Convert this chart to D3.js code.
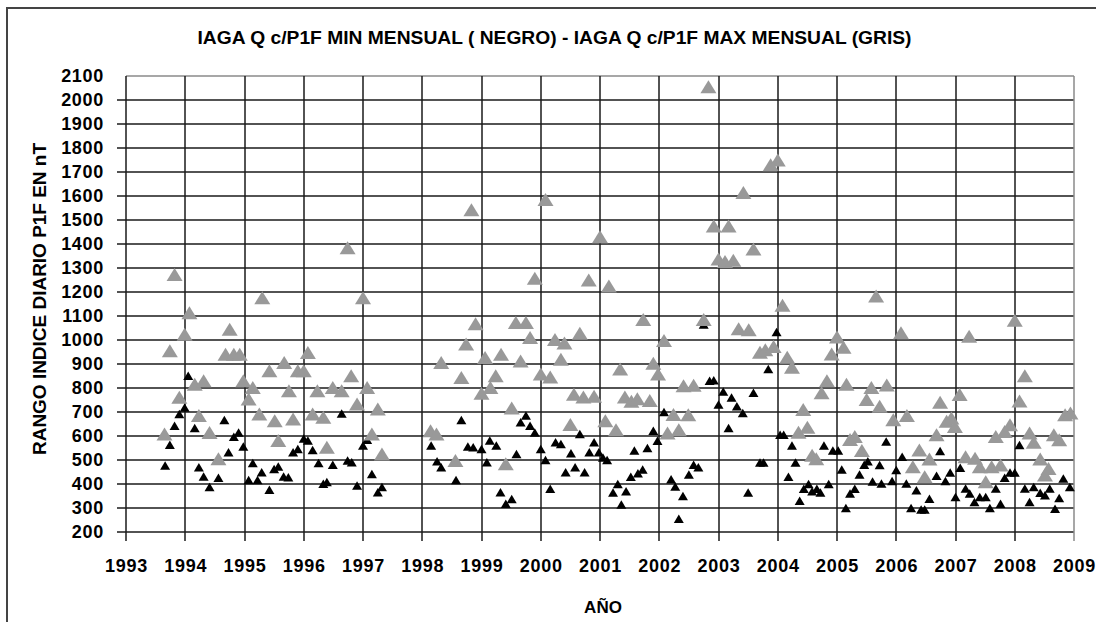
<!DOCTYPE html>
<html>
<head>
<meta charset="utf-8">
<script src="https://cdn.jsdelivr.net/npm/d3@7"></script>
<style>
  body { margin: 0; background: #fff; }
  text { font-family: "Liberation Sans", Arial, sans-serif; font-weight: bold; }
</style>
</head>
<body>
<div id="chart"></div>
<script>
// title and axis texts
const title = "IAGA Q c/P1F MIN MENSUAL ( NEGRO) - IAGA Q c/P1F MAX MENSUAL (GRIS)";
const yLabel = "RANGO INDICE DIARIO P1F EN nT";
const xLabel = "AÑO";
const yearTicks = d3.range(1993, 2010);
const valueTicks = d3.range(200, 2101, 100);

// monthly maximum (gray) : [decimal year, nT]
const maxGris = [
  [1993.65, 608], [1993.74, 955], [1993.82, 1273], [1993.90, 761], [1993.99, 1024],
  [1994.07, 1114], [1994.16, 816], [1994.23, 685], [1994.31, 830], [1994.41, 615],
  [1994.56, 505], [1994.68, 941], [1994.75, 1045], [1994.82, 941], [1994.92, 941],
  [1994.98, 830], [1995.07, 754], [1995.14, 802], [1995.25, 692], [1995.30, 1176],
  [1995.42, 872], [1995.51, 664], [1995.57, 581], [1995.67, 906], [1995.75, 789],
  [1995.82, 671], [1995.90, 872], [1996.00, 872], [1996.07, 948], [1996.15, 692],
  [1996.23, 789], [1996.33, 678], [1996.39, 553], [1996.49, 802], [1996.64, 789],
  [1996.74, 1384], [1996.80, 851], [1996.90, 733], [1997.00, 1176], [1997.07, 802],
  [1997.15, 608], [1997.25, 712], [1997.32, 525],
  [1998.14, 622], [1998.24, 608], [1998.32, 906], [1998.56, 498], [1998.66, 844],
  [1998.74, 983], [1998.83, 1543], [1998.90, 1068], [1999.00, 778], [1999.06, 927],
  [1999.15, 802], [1999.24, 851], [1999.33, 941], [1999.41, 484], [1999.51, 717],
  [1999.58, 1073], [1999.66, 913], [1999.75, 1073], [1999.82, 1010], [1999.90, 1257],
  [2000.00, 858], [2000.08, 1585], [2000.16, 846], [2000.24, 1002], [2000.34, 920],
  [2000.40, 987], [2000.50, 648], [2000.56, 774], [2000.66, 1028], [2000.72, 762],
  [2000.81, 1250], [2000.90, 766], [2001.00, 1430],
  [2001.09, 664], [2001.15, 1225], [2001.27, 626], [2001.34, 879], [2001.42, 762],
  [2001.53, 745], [2001.63, 755], [2001.73, 1085], [2001.84, 748], [2001.90, 903],
  [2001.98, 858], [2002.08, 998], [2002.14, 612], [2002.24, 690], [2002.33, 626],
  [2002.41, 809], [2002.49, 689], [2002.58, 811], [2002.75, 1085], [2002.83, 2055],
  [2002.92, 1475], [2003.00, 1337], [2003.11, 1327], [2003.17, 1475], [2003.25, 1332],
  [2003.34, 1047], [2003.42, 1615], [2003.51, 1043], [2003.59, 1379], [2003.70, 949],
  [2003.79, 959], [2003.88, 1730], [2003.93, 973], [2004.00, 1750], [2004.08, 1145],
  [2004.16, 928], [2004.24, 886], [2004.35, 616], [2004.43, 710], [2004.50, 636],
  [2004.58, 520], [2004.65, 505], [2004.74, 780], [2004.83, 830], [2004.91, 942],
  [2005.00, 1012], [2005.11, 970], [2005.16, 816], [2005.22, 585], [2005.30, 598],
  [2005.42, 540], [2005.50, 752], [2005.58, 802], [2005.66, 1183], [2005.72, 724],
  [2005.84, 812], [2005.95, 668], [2006.08, 1030], [2006.18, 685], [2006.28, 472],
  [2006.39, 542], [2006.48, 430], [2006.56, 504], [2006.68, 605], [2006.74, 741],
  [2006.85, 661], [2006.93, 675], [2006.99, 640], [2007.07, 773], [2007.17, 514],
  [2007.23, 1016], [2007.33, 507], [2007.41, 472], [2007.51, 409], [2007.61, 472],
  [2007.68, 598], [2007.76, 479], [2007.83, 619], [2007.92, 647], [2008.00, 1082],
  [2008.08, 746], [2008.17, 851], [2008.25, 612], [2008.32, 574], [2008.43, 504],
  [2008.51, 437], [2008.57, 465], [2008.66, 605], [2008.75, 584], [2008.85, 689],
  [2008.94, 696]
];

// monthly minimum (black) : [decimal year, nT]
const minNegro = [
  [1993.66, 477], [1993.74, 564], [1993.82, 643], [1993.90, 692], [1993.99, 719],
  [1994.05, 851], [1994.16, 633], [1994.23, 470], [1994.31, 431], [1994.41, 387],
  [1994.56, 426], [1994.66, 667], [1994.73, 532], [1994.82, 597], [1994.90, 615],
  [1994.98, 556], [1995.07, 417], [1995.14, 487], [1995.22, 417], [1995.29, 449],
  [1995.42, 376], [1995.50, 463], [1995.57, 473], [1995.66, 431], [1995.74, 428],
  [1995.82, 532], [1995.90, 546], [1996.00, 590], [1996.07, 581], [1996.15, 542],
  [1996.25, 487], [1996.33, 401], [1996.39, 408], [1996.49, 480], [1996.64, 694],
  [1996.74, 498], [1996.81, 491], [1996.90, 394], [1997.00, 560], [1997.07, 584],
  [1997.15, 442], [1997.25, 366], [1997.32, 387],
  [1998.15, 560], [1998.25, 495], [1998.32, 470], [1998.57, 417], [1998.66, 667],
  [1998.77, 556], [1998.86, 553], [1999.00, 546], [1999.09, 491], [1999.14, 581],
  [1999.25, 560], [1999.32, 366], [1999.41, 318], [1999.51, 338], [1999.59, 525],
  [1999.66, 657], [1999.75, 685], [1999.82, 643], [1999.90, 615], [2000.00, 546],
  [2000.08, 500], [2000.16, 380], [2000.25, 574], [2000.34, 567], [2000.42, 449],
  [2000.51, 528], [2000.58, 470], [2000.66, 608], [2000.74, 449], [2000.82, 532],
  [2000.90, 574], [2000.98, 532],
  [2001.05, 510], [2001.12, 500], [2001.22, 365], [2001.30, 400], [2001.36, 315],
  [2001.44, 370], [2001.52, 430], [2001.58, 540], [2001.64, 445], [2001.72, 460],
  [2001.80, 550], [2001.90, 622], [2001.97, 580], [2002.08, 700], [2002.20, 420],
  [2002.27, 390], [2002.33, 255], [2002.40, 350], [2002.50, 440], [2002.58, 480],
  [2002.66, 470], [2002.75, 1065], [2002.85, 830], [2002.92, 832], [2003.00, 731],
  [2003.08, 785], [2003.17, 633], [2003.22, 760], [2003.31, 724], [2003.41, 696],
  [2003.50, 365], [2003.59, 780], [2003.70, 490], [2003.76, 490], [2003.84, 879],
  [2003.98, 1033], [2004.04, 605], [2004.10, 605], [2004.18, 430], [2004.24, 560],
  [2004.30, 490], [2004.37, 330], [2004.44, 380], [2004.52, 400], [2004.58, 370],
  [2004.66, 380], [2004.72, 365], [2004.78, 560], [2004.86, 400], [2004.93, 540],
  [2005.02, 540], [2005.08, 460], [2005.15, 300], [2005.22, 360], [2005.30, 380],
  [2005.38, 440], [2005.46, 480], [2005.52, 495], [2005.60, 410], [2005.72, 479],
  [2005.75, 402], [2005.83, 577], [2005.93, 412], [2006.00, 458], [2006.10, 514],
  [2006.17, 402], [2006.25, 300], [2006.34, 374], [2006.42, 294], [2006.48, 294],
  [2006.56, 339], [2006.68, 434], [2006.74, 538], [2006.83, 412], [2006.91, 448],
  [2007.00, 346], [2007.08, 468], [2007.17, 381], [2007.24, 360], [2007.32, 325],
  [2007.41, 346], [2007.51, 346], [2007.58, 300], [2007.68, 381], [2007.76, 318],
  [2007.83, 426], [2007.92, 448], [2008.00, 448], [2008.08, 563], [2008.17, 381],
  [2008.25, 325], [2008.32, 388], [2008.43, 364], [2008.51, 353], [2008.59, 381],
  [2008.68, 297], [2008.75, 342], [2008.82, 423], [2008.93, 388]
];

const W = 1096, H = 622;
const plot = { left: 126, right: 1074, top: 76, bottom: 532 };

const svg = d3.select("#chart").append("svg")
  .attr("width", W).attr("height", H);

// outer chart frame (runs off the picture at right and bottom)
svg.append("rect")
  .attr("x", 7).attr("y", 8)
  .attr("width", 1200).attr("height", 800)
  .style("fill", "none").style("stroke", "#444").style("stroke-width", "2px");

const x = d3.scaleLinear().domain([1993, 2009]).range([plot.left, plot.right]);
const y = d3.scaleLinear().domain([200, 2100]).range([plot.bottom, plot.top]);

// grid lines, with the 9px outer ticks; top and right border gray
const grid = svg.append("g");
grid.selectAll(".hgrid")
  .data(valueTicks)
  .join("line")
  .attr("class", "hgrid")
  .attr("x1", d => (d === 2100 ? plot.left : plot.left - 9))
  .attr("x2", plot.right)
  .attr("y1", d => Math.round(y(d))).attr("y2", d => Math.round(y(d)))
  .style("stroke", d => (d === 2100 ? "#8a8a8a" : "#1a1a1a"))
  .style("stroke-width", "1.5px");
grid.selectAll(".vgrid")
  .data(yearTicks)
  .join("line")
  .attr("class", "vgrid")
  .attr("x1", d => Math.round(x(d))).attr("x2", d => Math.round(x(d)))
  .attr("y1", plot.top)
  .attr("y2", plot.bottom + 9)
  .style("stroke", d => (d === 2009 ? "#8a8a8a" : "#1a1a1a"))
  .style("stroke-width", "1.5px");

// axis labels (tick lines removed, the grid draws them)
svg.append("g")
  .attr("transform", `translate(${plot.left},0)`)
  .call(d3.axisLeft(y).tickValues(valueTicks).tickFormat(d3.format("d"))
    .tickSize(9).tickPadding(13));
svg.append("g")
  .attr("transform", `translate(0,${plot.bottom})`)
  .call(d3.axisBottom(x).tickValues(yearTicks).tickFormat(d3.format("d"))
    .tickSize(9).tickPadding(18.5));
svg.selectAll(".domain, .tick line").remove();
svg.selectAll(".tick text")
  .style("fill", "#000").style("font-size", "18px").style("letter-spacing", "0.7px");

// triangle marker centred on the data point
function tri(d, w, h) {
  const cx = x(d[0]), cy = y(d[1]);
  return `M${cx},${cy - h / 2}L${cx + w / 2},${cy + h / 2}L${cx - w / 2},${cy + h / 2}Z`;
}

svg.append("g").selectAll("path")
  .data(minNegro)
  .join("path")
  .attr("d", d => tri(d, 10, 8.5))
  .style("fill", "#000");

svg.append("g").selectAll("path")
  .data(maxGris)
  .join("path")
  .attr("d", d => tri(d, 16, 13))
  .style("fill", "#999");

// title
svg.append("text")
  .attr("x", 554.5).attr("y", 44)
  .attr("text-anchor", "middle")
  .attr("textLength", 714).attr("lengthAdjust", "spacingAndGlyphs")
  .style("font-size", "18px")
  .text(title);

// axis titles
svg.append("text")
  .attr("transform", "translate(46,299) rotate(-90)")
  .attr("text-anchor", "middle")
  .attr("textLength", 312).attr("lengthAdjust", "spacingAndGlyphs")
  .style("font-size", "18px")
  .text(yLabel);

svg.append("text")
  .attr("x", 603).attr("y", 613)
  .attr("text-anchor", "middle")
  .style("font-size", "17px")
  .text(xLabel);
</script>
</body>
</html>
